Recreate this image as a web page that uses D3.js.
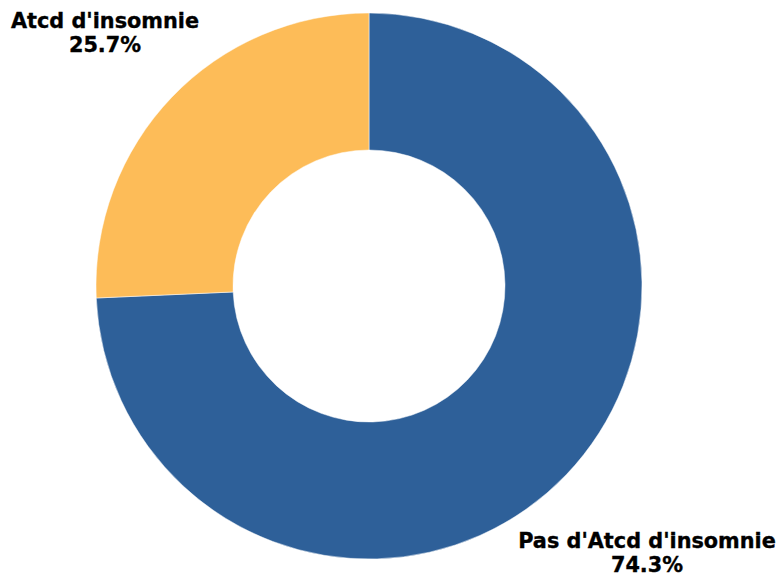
<!DOCTYPE html>
<html>
<head>
<meta charset="utf-8">
<script src="https://cdn.jsdelivr.net/npm/d3@7/dist/d3.min.js"></script>
<style>
  html, body { margin: 0; padding: 0; background: #fff; }
  svg { display: block; }
  .lbl { font-family: "DejaVu Sans", sans-serif; font-weight: bold; font-size: 20.8px; fill: #000; stroke: #000; stroke-width: 0.35px; }
</style>
</head>
<body>
<svg id="chart" width="779" height="576"></svg>
<script>
// Antécédents d'insomnie — shares of respondents
const categories = ["Pas d'Atcd d'insomnie", "Atcd d'insomnie"];
const values = [74.3, 25.7];
const colors = ["#2E6099", "#FDBC58"];
// label anchor centres (x, baseline y of first line)
const labelPos = [[647, 548], [105, 28]];

const width = 779, height = 576;
const cx = 369, cy = 286, outerR = 273, innerR = 136;

const svg = d3.select("#chart");
const g = svg.append("g").attr("transform", `translate(${cx},${cy})`);

const pie = d3.pie().sort(null).value(d => d)(values);
const arc = d3.arc().innerRadius(innerR).outerRadius(outerR);

g.selectAll("path")
  .data(pie)
  .join("path")
  .attr("d", arc)
  .attr("fill", (d, i) => colors[i])
  .attr("stroke", "#fff")
  .attr("stroke-width", 0.5);

const labels = svg.selectAll("text.lbl")
  .data(categories)
  .join("text")
  .attr("class", "lbl")
  .attr("text-anchor", "middle")
  .attr("transform", (d, i) => `translate(${labelPos[i][0]},${labelPos[i][1]})`);

labels.append("tspan").attr("x", 0).attr("y", 0).text(d => d);
labels.append("tspan").attr("x", 0).attr("y", 24)
  .text((d, i) => values[i].toFixed(1) + "%");
</script>
</body>
</html>
